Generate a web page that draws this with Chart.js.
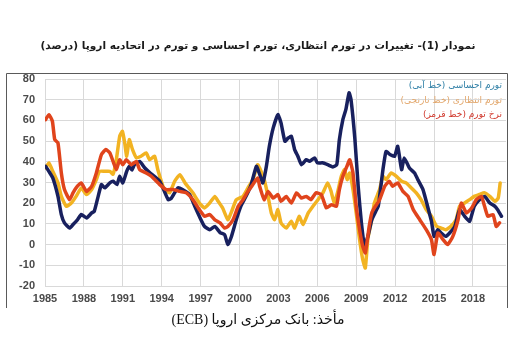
<!DOCTYPE html>
<html>
<head>
<meta charset="utf-8">
<script src="https://cdn.jsdelivr.net/npm/chart.js@4.4.1/dist/chart.umd.min.js"></script>
<style>
  html,body{margin:0;padding:0;background:#fff;}
  #wrap{position:relative;width:516px;height:359px;overflow:hidden;}
  canvas{position:absolute;left:0;top:0;}
  .t{position:absolute;white-space:nowrap;direction:rtl;}
  #title{left:0;width:516px;top:39px;text-align:center;font:bold 10.6px "DejaVu Sans",sans-serif;color:#1a1a1a;}
  #caption{left:0;width:516px;top:311px;text-align:center;font:14px "Liberation Serif","DejaVu Sans",serif;color:#111;}
  .lg{right:14px;font:9px "DejaVu Sans",sans-serif;text-align:right;}
</style>
</head>
<body>
<div id="wrap">
  <canvas id="c" width="516" height="359"></canvas>
  <div class="t" id="title">نمودار (1)- تغییرات در تورم انتظاری، تورم احساسی و تورم در اتحادیه اروپا (درصد)</div>
  <div class="t lg" style="top:80px;color:#2f7fa6;">تورم احساسی (خط آبی)</div>
  <div class="t lg" style="top:95px;color:#e2a66a;">تورم انتظاری (خط نارنجی)</div>
  <div class="t lg" style="top:109px;color:#d0362a;">نرخ تورم (خط قرمز)</div>
  <div class="t" id="caption">مأخذ: بانک مرکزی اروپا (ECB)</div>
</div>
<script>
// Tick labels
const xTickYears = [1985, 1988, 1991, 1994, 1997, 2000, 2003, 2006, 2009, 2012, 2015, 2018];
const yTicks = [-20, -10, 0, 10, 20, 30, 40, 50, 60, 70, 80];

// Perceived inflation (blue)
const blueYears = [1985.05,1985.3,1985.6,1986.0,1986.26,1986.5,1986.9,1987.16,1987.5,1987.8,1988.2,1988.6,1988.8,1989.1,1989.35,1989.6,1990.0,1990.25,1990.55,1990.76,1991.0,1991.3,1991.5,1991.7,1991.9,1992.3,1992.7,1993.07,1993.85,1994.5,1994.75,1995.25,1995.6,1996.15,1996.55,1996.9,1997.3,1997.7,1998.1,1998.5,1998.85,1999.1,1999.35,1999.75,2000.1,2000.5,2000.9,2001.3,2001.55,2001.8,2002.07,2002.3,2002.6,2002.96,2003.2,2003.5,2003.75,2004.0,2004.25,2004.5,2004.77,2005.15,2005.4,2005.8,2006.0,2006.4,2006.8,2007.2,2007.5,2007.7,2007.97,2008.2,2008.45,2008.6,2008.9,2009.15,2009.4,2009.65,2009.9,2010.2,2010.5,2010.7,2011.06,2011.3,2011.6,2011.96,2012.2,2012.5,2012.7,2013.1,2013.5,2013.75,2014.15,2014.5,2014.8,2015.0,2015.3,2015.55,2015.9,2016.2,2016.6,2016.97,2017.36,2017.75,2018.1,2018.5,2018.9,2019.3,2019.7,2019.9,2020.2];
const blueValues = [37.8,35.4,32.2,23.3,14.5,10.5,8,9.7,12,14.5,12.9,15.3,16.1,23.3,29,27.4,29.8,30.6,29,33,29.8,35.4,37.8,36,38.6,40.2,37,34.8,30.6,21.7,22.5,27.4,26.6,24.2,18.5,13.7,8.8,7.2,8.8,5.8,4.8,0,3.4,12,18.5,23.3,29,37.8,34,29.8,37.8,47.5,56.4,62.8,58.8,49.9,51.5,52.3,45.9,42.7,38.6,41,40.2,41.9,39.5,39.5,38.6,37.5,38.6,50.7,60.4,65.2,73.3,70,50.7,28.2,10.5,-0.8,4,12,16,18.5,36.2,45,43.5,42.7,47.5,36.2,41.9,37,34.6,31.4,26.6,18.5,11.3,4,7.2,5.6,4,5.6,8.8,16.9,13.7,11.3,18.5,21.7,23.3,20.1,18.5,16.9,13.7];

// Expected inflation (orange)
const orangeYears = [1985.05,1985.3,1985.6,1986.0,1986.26,1986.65,1987.03,1987.4,1987.8,1988.2,1988.6,1988.96,1989.2,1989.6,1990.0,1990.25,1990.5,1990.76,1990.97,1991.15,1991.3,1991.5,1991.75,1992.05,1992.4,1992.8,1993.07,1993.45,1993.7,1994.2,1994.6,1995.0,1995.4,1995.8,1996.0,1996.4,1996.9,1997.3,1997.7,1998.1,1998.35,1998.7,1999.1,1999.35,1999.75,2000.27,2000.65,2001.03,2001.4,2001.55,2001.9,2002.2,2002.45,2002.7,2002.96,2003.2,2003.6,2004.0,2004.25,2004.6,2004.9,2005.3,2005.66,2006.05,2006.43,2006.8,2007.05,2007.3,2007.55,2007.85,2008.1,2008.3,2008.5,2008.75,2009.0,2009.26,2009.5,2009.7,2009.9,2010.2,2010.4,2010.8,2011.06,2011.3,2011.7,2012.1,2012.5,2012.85,2013.25,2013.63,2014.0,2014.4,2014.8,2015.2,2015.55,2015.9,2016.3,2016.7,2016.97,2017.36,2017.75,2018.1,2018.5,2018.9,2019.3,2019.7,2019.95,2020.1];
const orangeValues = [37,39.5,35.4,29.8,23.3,18.5,20.1,23.3,27.4,24.2,26.6,31.4,35.4,35.4,35.4,34,41,52.3,54.7,49,42.7,50.7,45.9,41.9,42.7,44.3,41,42.7,36.2,26.6,25,30.6,33.8,29.8,28.2,25,20.1,17.7,20.1,23.3,20.9,17.7,12,15.3,21.7,23.3,27.4,31.4,38.6,37,31.4,23.3,15.3,12,16.9,10.5,8,11.3,8,13.7,9.7,15.3,18.5,21.7,25,29.8,26,20.1,25,33,36.2,31.4,34.6,26.6,15.3,2.4,-7.2,-11.3,3,12,20.1,26.6,33,31.4,34.6,33,30.6,29.8,27.4,25,21.7,16.9,13.7,8.8,8,7.2,8.8,12,18.5,20.1,21.7,23.3,24.2,25,23.3,20.9,22.5,29.8];

// Inflation rate (red)
const redYears = [1985.05,1985.3,1985.57,1985.75,1986.0,1986.26,1986.5,1986.9,1987.16,1987.5,1987.8,1988.2,1988.6,1988.96,1989.35,1989.7,1990.0,1990.25,1990.5,1990.76,1991.0,1991.27,1991.65,1992.05,1992.3,1992.8,1993.2,1993.85,1994.35,1994.87,1995.4,1995.9,1996.4,1996.9,1997.3,1997.7,1998.1,1998.5,1998.85,1999.1,1999.5,1999.9,2000.27,2000.65,2001.03,2001.4,2001.55,2001.9,2002.2,2002.6,2002.96,2003.2,2003.6,2004.0,2004.4,2004.77,2005.15,2005.5,2005.9,2006.3,2006.7,2007.1,2007.47,2007.7,2007.97,2008.28,2008.5,2008.75,2009.0,2009.26,2009.5,2009.7,2010.0,2010.2,2010.4,2010.8,2011.2,2011.55,2011.8,2012.2,2012.6,2013.0,2013.4,2013.9,2014.4,2014.8,2015.0,2015.3,2015.7,2016.05,2016.45,2016.85,2017.1,2017.5,2017.9,2018.26,2018.65,2018.9,2019.15,2019.55,2019.8,2020.05];
const redValues = [60.4,62.8,59.6,50.7,49.1,34.6,26.6,21.7,25,28.2,29.8,25.7,28.2,34.6,43.5,45.9,44.3,40.2,36.2,41,38.6,41,38.6,40.2,36.2,34.6,33,29,26.6,26.6,25.7,25,21.7,16.9,13.7,14.5,12,10.5,8,8.8,12,18.5,21.7,25.7,29,32.2,28.2,21.7,25.7,22.5,24.2,20.9,23.3,20.1,25,22.5,23.3,21.7,25,24.2,17.7,19.3,18.5,26.6,33,37.8,41,34.6,18.5,7.2,-0.8,-4,8.8,15.3,17.7,21.7,28.2,30.6,28.2,29.8,25.7,23.3,16.9,12,7.2,2.4,-4.8,5.6,2.4,0,4,12,20.1,15.3,17.7,21.7,23.3,18.5,13.7,14.5,8.8,10.5];

const toPts = (xs, ys) => xs.map((x, i) => ({x: x, y: ys[i]}));

const framePlugin = {
  id: 'frame',
  beforeDraw(chart) {
    const ctx = chart.ctx;
    ctx.save();
    ctx.strokeStyle = '#5a5a5a';
    ctx.lineWidth = 1;
    ctx.beginPath();
    ctx.moveTo(6.5, 308);
    ctx.lineTo(6.5, 73.5);
    ctx.lineTo(507.5, 73.5);
    ctx.lineTo(507.5, 308);
    ctx.stroke();
    ctx.restore();
  }
};

const lineStyle = {borderWidth: 3.5, pointRadius: 0, tension: 0.15, borderJoinStyle: 'round', borderCapStyle: 'round', fill: false};

new Chart(document.getElementById('c'), {
  type: 'line',
  data: {
    datasets: [
      Object.assign({label: 'نرخ تورم', data: toPts(redYears, redValues), borderColor: '#e0441c'}, lineStyle),
      Object.assign({label: 'تورم احساسی', data: toPts(blueYears, blueValues), borderColor: '#18205e'}, lineStyle),
      Object.assign({label: 'تورم انتظاری', data: toPts(orangeYears, orangeValues), borderColor: '#f2b322'}, lineStyle)
    ]
  },
  options: {
    responsive: false,
    animation: false,
    layout: {padding: {top: 79, right: 10, bottom: 0, left: 0}},
    plugins: {legend: {display: false}, tooltip: {enabled: false}},
    scales: {
      x: {
        type: 'linear',
        min: 1985,
        max: 2020.55,
        afterBuildTicks: (s) => { s.ticks = xTickYears.map(v => ({value: v})); },
        afterFit: (s) => { s.height = 73; },
        grid: {color: '#d9d9d9', drawTicks: false},
        border: {color: '#d9d9d9'},
        ticks: {padding: 6, color: '#4a4a4a', font: {family: 'Liberation Sans', size: 11, weight: 'bold'}, maxRotation: 0, autoSkip: false, callback: (v) => String(v)}
      },
      y: {
        min: -20,
        max: 80,
        afterBuildTicks: (s) => { s.ticks = yTicks.map(v => ({value: v})); },
        afterFit: (s) => { s.width = 45; },
        grid: {color: '#d9d9d9', drawTicks: false},
        border: {color: '#d9d9d9'},
        ticks: {padding: 10, color: '#4a4a4a', font: {family: 'Liberation Sans', size: 11, weight: 'bold'}}
      }
    }
  },
  plugins: [framePlugin]
});
</script>
</body>
</html>
